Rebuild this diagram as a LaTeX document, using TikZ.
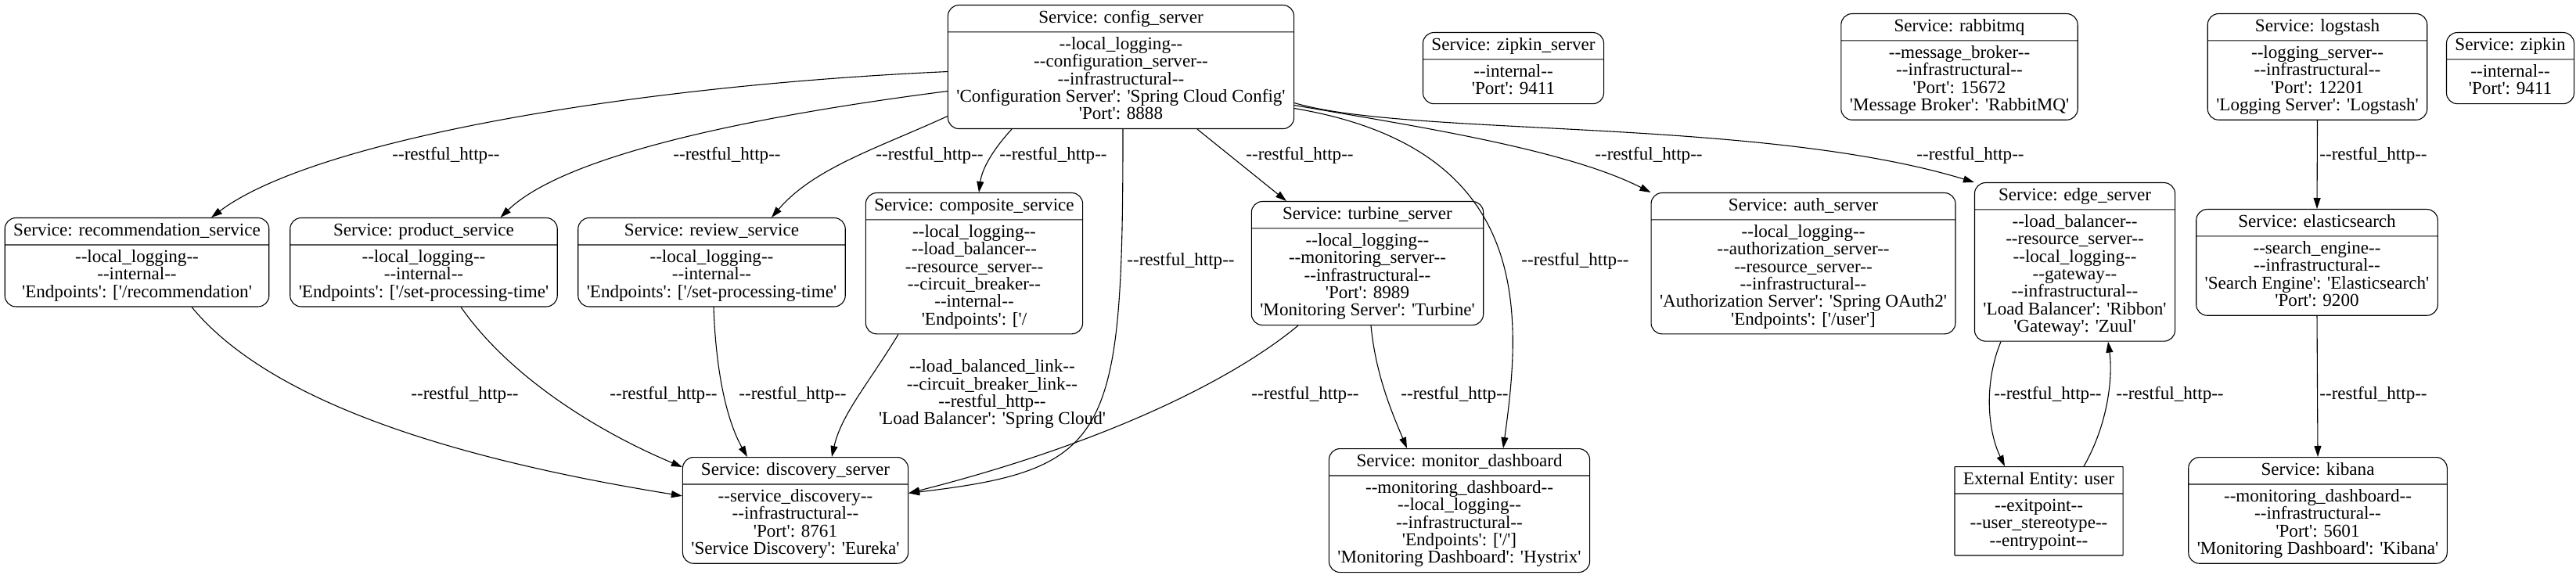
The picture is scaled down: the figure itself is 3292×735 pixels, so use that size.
\documentclass[tikz,border=0pt]{standalone}
\usepackage{fontspec}
\newfontfamily\gvfont{Liberation Serif}
\usetikzlibrary{shapes.multipart,arrows.meta}
\newcommand{\gvstrut}{\rule[-5.8pt]{0pt}{22.3pt}}
\newcommand{\gvtext}[1]{\gvstrut#1\gvstrut}
\tikzset{
  box/.style={rectangle split, rectangle split parts=2, draw, line width=1.1pt,
    align=center, inner xsep=11pt, inner ysep=5.5pt, anchor=north},
  svc/.style={box, rounded corners=14pt},
  ext/.style={box, rounded corners=0.5pt},
  lbl/.style={inner sep=0pt, align=center},
  flow/.style={line width=1.1pt, -{Triangle[length=14pt,width=9pt]}},
}
\begin{document}
\begin{tikzpicture}[x=1pt, y=-1pt, font=\gvfont\fontsize{23.1pt}{22.3pt}\selectfont]
	\useasboundingbox (0,0) rectangle (3292,735);
	\node [svc] (config) at (1432.5,6) {\gvtext{Service: config\_server}\nodepart{two}\gvtext{--local\_logging--\\--configuration\_server--\\--infrastructural--\\'Configuration Server': 'Spring Cloud Config'\\'Port': 8888}};
	\node [svc] (zipsrv) at (1934,41) {\gvtext{Service: zipkin\_server}\nodepart{two}\gvtext{--internal--\\'Port': 9411}};
	\node [svc] (rabbit) at (2504,17) {\gvtext{Service: rabbitmq}\nodepart{two}\gvtext{--message\_broker--\\--infrastructural--\\'Port': 15672\\'Message Broker': 'RabbitMQ'}};
	\node [svc] (logstash) at (2961.5,17) {\gvtext{Service: logstash}\nodepart{two}\gvtext{--logging\_server--\\--infrastructural--\\'Port': 12201\\'Logging Server': 'Logstash'}};
	\node [svc] (zipkin) at (3208,41) {\gvtext{Service: zipkin}\nodepart{two}\gvtext{--internal--\\'Port': 9411}};
	\node [svc] (recom) at (175,278) {\gvtext{Service: recommendation\_service}\nodepart{two}\gvtext{--local\_logging--\\--internal--\\'Endpoints': ['/recommendation'}};
	\node [svc] (product) at (541.5,278) {\gvtext{Service: product\_service}\nodepart{two}\gvtext{--local\_logging--\\--internal--\\'Endpoints': ['/set-processing-time'}};
	\node [svc] (review) at (909.5,278) {\gvtext{Service: review\_service}\nodepart{two}\gvtext{--local\_logging--\\--internal--\\'Endpoints': ['/set-processing-time'}};
	\node [svc] (composite) at (1245,246) {\gvtext{Service: composite\_service}\nodepart{two}\gvtext{--local\_logging--\\--load\_balancer--\\--resource\_server--\\--circuit\_breaker--\\--internal--\\'Endpoints': ['/}};
	\node [svc] (turbine) at (1747.5,257) {\gvtext{Service: turbine\_server}\nodepart{two}\gvtext{--local\_logging--\\--monitoring\_server--\\--infrastructural--\\'Port': 8989\\'Monitoring Server': 'Turbine'}};
	\node [svc] (auth) at (2304.5,246) {\gvtext{Service: auth\_server}\nodepart{two}\gvtext{--local\_logging--\\--authorization\_server--\\--resource\_server--\\--infrastructural--\\'Authorization Server': 'Spring OAuth2'\\'Endpoints': ['/user']}};
	\node [svc] (edge) at (2651.5,233) {\gvtext{Service: edge\_server}\nodepart{two}\gvtext{--load\_balancer--\\--resource\_server--\\--local\_logging--\\--gateway--\\--infrastructural--\\'Load Balancer': 'Ribbon'\\'Gateway': 'Zuul'}};
	\node [svc] (elastic) at (2961,267) {\gvtext{Service: elasticsearch}\nodepart{two}\gvtext{--search\_engine--\\--infrastructural--\\'Search Engine': 'Elasticsearch'\\'Port': 9200}};
	\node [svc] (discovery) at (1016.5,584) {\gvtext{Service: discovery\_server}\nodepart{two}\gvtext{--service\_discovery--\\--infrastructural--\\'Port': 8761\\'Service Discovery': 'Eureka'}};
	\node [svc] (monitor) at (1865,573) {\gvtext{Service: monitor\_dashboard}\nodepart{two}\gvtext{--monitoring\_dashboard--\\--local\_logging--\\--infrastructural--\\'Endpoints': ['/']\\'Monitoring Dashboard': 'Hystrix'}};
	\node [ext] (user) at (2605.5,596) {\gvtext{External Entity: user}\nodepart{two}\gvtext{--exitpoint--\\--user\_stereotype--\\--entrypoint--}};
	\node [svc] (kibana) at (2962,584) {\gvtext{Service: kibana}\nodepart{two}\gvtext{--monitoring\_dashboard--\\--infrastructural--\\'Port': 5601\\'Monitoring Dashboard': 'Kibana'}};
	\draw [flow] ([yshift=-6pt]config.west) .. controls (800,110) and (400,180) .. ([xshift=95pt]recom.north);
	\draw [flow] ([yshift=-31pt]config.west) .. controls (950,150) and (720,200) .. ([xshift=98pt]product.north);
	\draw [flow] ([yshift=-63pt]config.west) .. controls (1120,190) and (1040,215) .. ([xshift=76.5pt]review.north);
	\draw [flow] ([xshift=-139.5pt]config.south) .. controls (1270,190) and (1255,215) .. ([xshift=6pt]composite.north);
	\draw [flow] ([xshift=2.5pt]config.south) .. controls (1435,560) and (1420,600) .. ([yshift=22pt]discovery.east);
	\draw [flow] ([xshift=97.5pt]config.south) -- ([xshift=-103.5pt]turbine.north);
	\draw [flow] ([yshift=-53pt]config.east) .. controls (1960,190) and (1945,400) .. ([xshift=56pt]monitor.north);
	\draw [flow] ([yshift=-49pt]config.east) .. controls (1800,160) and (2000,190) .. (auth.north west);
	\draw [flow] ([yshift=-46pt]config.east) .. controls (1800,175) and (2250,150) .. (edge.north west);
	\draw [flow] (logstash.south) -- (elastic.north);
	\draw [flow] (elastic.south) -- (kibana.north);
	\draw [flow] ([xshift=-94.5pt]edge.south) .. controls (2535,490) and (2540,550) .. ([xshift=-43.5pt]user.north);
	\draw [flow] ([xshift=57.5pt]user.north) .. controls (2695,540) and (2700,480) .. ([xshift=42.5pt]edge.south);
	\draw [flow] ([xshift=70pt]recom.south) .. controls (350,520) and (600,590) .. ([yshift=18.5pt]discovery.west);
	\draw [flow] ([xshift=47.5pt]product.south) .. controls (650,480) and (760,550) .. ([yshift=-13pt]discovery.north west);
	\draw [flow] ([xshift=2.5pt]review.south) .. controls (915,480) and (930,540) .. ([xshift=-61.5pt]discovery.north);
	\draw [flow] ([xshift=-97pt]composite.south) .. controls (1110,490) and (1075,530) .. ([xshift=46.5pt]discovery.north);
	\draw [flow] ([xshift=-88.5pt]turbine.south) .. controls (1570,490) and (1400,570) .. ([yshift=22pt]discovery.east);
	\draw [flow] ([xshift=4.5pt]turbine.south) .. controls (1758,480) and (1780,530) .. ([xshift=-67pt]monitor.north);
	\foreach \lx/\ly [count=\i] in {570/199, 929/199, 1188/199, 1346/199, 1661/199, 2107/199, 2518/199, 3033/199, 1509/334, 2013/334, 594/505, 848/505, 1013/505, 1668/505, 1859/505, 2617/505, 2773/505, 3033/505}
	{
		\node [lbl] (r\i) at (\lx,\ly) {\gvtext{--restful\_http--}};
	}
	\node [lbl] (lbcb) at (1268,504) {\gvtext{--load\_balanced\_link--\\--circuit\_breaker\_link--\\--restful\_http--\\'Load Balancer': 'Spring Cloud'}};
\end{tikzpicture}
\end{document}
